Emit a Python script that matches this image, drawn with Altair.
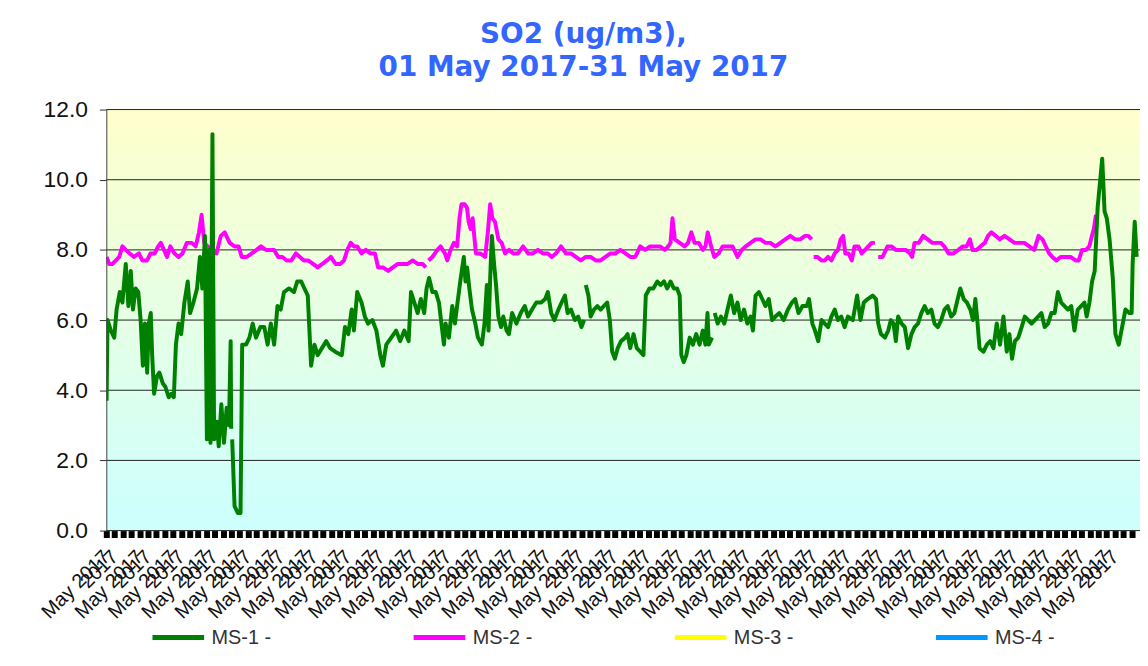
import altair as alt
import pandas as pd

# ---- data (hours since 01 May 2017 00:00, value in ug/m3) ----
ms1_hours = [0.2, 0.9, 3.3, 5.7, 7.4, 9.7, 11.6, 14.0, 15.9, 17.6, 19.2, 21.1, 23.0, 24.7, 26.3, 27.8, 29.4, 30.6, 32.0, 33.0,
             34.4, 36.5, 38.2, 40.6, 42.5, 44.9, 46.8, 48.6, 50.1, 52.0, 53.9, 56.2, 58.6, 60.3, 62.7, 65.3, 67.4, 69.1, 71.0, 72.4,
             73.8, 75.0, 76.4, 77.6, 79.5, 80.9, 82.8, 84.7, 86.6, 88.3, 89.5, 89.9, 90.3, 90.6, 92.3, 94.7, 96.6, 97.8, 100.6, 103.0,
             105.4, 107.7, 110.9, 113.7, 116.1, 118.4, 120.8, 123.2, 125.5, 127.9, 131.5, 135.1, 137.4, 140.3, 142.6, 145.0, 147.4, 149.8, 152.1, 155.2,
             158.3, 161.1, 164.7, 169.5, 171.8, 174.2, 176.6, 178.2, 180.6, 183.7, 186.1, 188.4, 191.5, 194.4, 197.2, 199.1, 201.5, 205.1, 208.6, 211.5,
             214.5, 217.6, 219.3, 221.7, 224.1, 226.4, 228.8, 230.5, 232.3, 234.7, 237.1, 239.4, 243.0, 244.2, 246.6, 249.0, 250.9, 252.8, 255.1, 257.3,
             258.5, 259.7, 261.3, 263.2, 265.6, 267.5, 270.3, 272.2, 273.9, 275.1, 276.3, 277.5, 279.1, 280.5, 282.2, 284.1, 285.7, 288.1, 289.8, 292.1,
             295.2, 298.3, 301.2, 303.5, 306.4, 309.5, 313.0, 315.9, 317.8, 320.2, 322.5, 325.4, 327.7, 330.1, 332.0, 334.4, 337.3, 339.6, 342.0, 343.9,
             344.5, 345.1, 347.0, 348.6, 351.0, 353.4, 355.8, 358.1, 360.5, 362.4, 364.1, 366.0, 368.1, 370.5, 373.5, 375.2, 377.1, 379.5, 381.8, 384.3,
             386.6, 388.3, 390.9, 393.7, 396.6, 398.9, 401.4, 403.7, 406.1, 408.5, 410.8, 412.7, 413.9, 415.6, 417.5, 419.9, 422.2, 424.6, 427.0, 429.3,
             431.2, 432.7, 433.6, 436.0, 437.0, 437.9, 440.0, 442.4, 444.8, 447.1, 449.5, 451.9, 454.3, 456.6, 459.0, 461.4, 463.7, 465.4, 467.3, 469.7,
             472.1, 474.4, 476.8, 479.2, 481.6, 484.4, 487.6, 490.6, 493.5, 495.8, 498.2, 501.1, 504.1, 505.8, 508.2, 510.1, 512.4, 514.8, 517.1, 519.5,
             521.9, 524.3, 526.6, 529.0, 531.4, 533.8, 537.3, 540.4, 542.8, 545.2, 548.0, 551.6, 554.0, 555.6, 557.5, 560.4, 562.8, 564.7, 566.6, 568.3,
             569.9, 572.4, 574.7, 577.1, 579.5, 581.8, 584.2, 586.6, 589.0, 591.3, 593.8, 596.1, 598.5, 600.9, 603.3, 605.6, 608.1, 610.4, 612.8, 614.7,
             617.1, 619.5, 621.9, 623.8, 625.5, 627.1, 628.5, 631.4, 633.8, 636.2, 638.5, 640.9, 643.3, 645.7, 648.1, 650.0, 651.9, 654.0, 656.4, 658.8,
             661.1, 663.5, 665.9, 668.3, 670.7, 673.0, 675.4, 677.8, 680.2, 682.6, 684.9, 687.3, 689.7, 692.1, 694.5, 696.8, 699.2, 701.6, 704.0, 705.6,
             707.6, 709.5, 711.4, 713.5, 716.8, 718.5, 720.1, 722.1, 724.4, 726.3, 728.7, 731.6, 733.5, 736.3, 738.0, 738.7, 740.2, 741.6]
ms1_values = [3.7, 6.0, 5.7, 5.5, 6.3, 6.8, 6.5, 7.6, 6.4, 7.4, 6.3, 6.9, 6.8, 6.0, 4.7, 5.9, 4.5, 5.9, 6.2, 5.0,
              3.9, 4.4, 4.5, 4.2, 4.1, 3.8, 3.9, 3.8, 5.3, 5.9, 5.6, 6.5, 7.1, 6.2, 6.5, 6.9, 7.8, 6.9, 8.4, 2.6,
              8.0, 2.5, 11.3, 2.6, 3.1, 2.4, 3.6, 2.5, 3.5, 3.0, 5.4, 2.9, None, 2.6, 0.7, 0.5, 0.5, 5.3, 5.3, 5.5,
              5.9, 5.5, 5.8, 5.8, 5.3, 5.9, 5.3, 6.4, 6.3, 6.8, 6.9, 6.8, 7.1, 7.1, 6.9, 6.7, 4.7, 5.3, 5.0, 5.2,
              5.4, 5.2, 5.1, 5.0, 5.8, 5.6, 6.3, 5.7, 6.8, 6.5, 6.1, 5.9, 6.0, 5.7, 5.0, 4.7, 5.3, 5.5, 5.7, 5.4,
              5.7, 5.4, 6.8, 6.5, 6.2, 6.6, 6.2, 6.9, 7.2, 6.8, 6.8, 6.5, 5.3, 5.9, 5.5, 6.4, 5.9, 6.5, 7.2, 7.8,
              7.1, 7.5, 6.9, 6.3, 5.9, 5.5, 5.3, 5.9, 7.0, 5.7, 7.2, 8.4, 7.6, 7.0, 6.1, 5.8, 6.1, 5.7, 5.6, 6.2,
              5.9, 6.2, 6.4, 6.1, 6.3, 6.5, 6.5, 6.6, 6.8, 6.2, 6.0, 6.3, 6.5, 6.7, 6.2, 6.3, 6.0, 6.1, 5.8, 6.0,
              None, 7.0, 6.7, 6.1, 6.3, 6.4, 6.3, 6.4, 6.5, 6.0, 5.1, 4.9, 5.2, 5.4, 5.5, 5.6, 5.2, 5.6, 5.2, 5.1,
              5.0, 6.7, 6.9, 6.9, 7.1, 7.0, 7.1, 6.9, 7.1, 6.9, 6.9, 6.7, 5.0, 4.8, 5.0, 5.5, 5.3, 5.6, 5.3, 5.7,
              5.3, 6.2, 5.3, 5.5, None, 6.2, 5.9, 6.1, 5.9, 6.3, 6.7, 6.2, 6.5, 6.0, 6.3, 5.9, 6.1, 5.7, 6.7, 6.8,
              6.6, 6.4, 6.6, 6.0, 6.1, 6.2, 6.0, 6.3, 6.5, 6.6, 6.2, 6.4, 6.4, 6.6, 5.9, 5.7, 5.4, 6.0, 5.9, 5.8,
              6.1, 6.3, 6.0, 6.1, 5.8, 6.1, 6.0, 6.7, 6.0, 6.5, 6.6, 6.7, 6.6, 5.9, 5.6, 5.5, 5.7, 6.0, 5.9, 5.4,
              6.1, 5.9, 5.8, 5.2, 5.6, 5.8, 5.9, 6.2, 6.4, 6.2, 6.3, 5.9, 5.8, 6.0, 6.3, 6.4, 6.1, 6.2, 6.6, 6.9,
              6.6, 6.5, 6.3, 6.0, 6.6, 5.9, 5.2, 5.1, 5.3, 5.4, 5.2, 5.9, 5.3, 6.1, 5.1, 5.6, 4.9, 5.4, 5.5, 5.8,
              6.1, 6.0, 5.9, 6.0, 6.1, 6.2, 5.8, 5.9, 6.2, 6.2, 6.8, 6.5, 6.4, 6.3, 6.4, 5.7, 6.3, 6.4, 6.5, 6.1,
              6.5, 7.1, 7.4, 9.2, 10.6, 9.1, 8.9, 8.3, 7.2, 5.6, 5.3, 5.9, 6.3, 6.2, 6.2, 7.6, 8.8, 7.8]

ms2_hours = [0.2, 2.1, 4.5, 6.9, 9.3, 11.6, 14.0, 16.9, 19.9, 23.5, 25.9, 29.4, 31.8, 34.9, 37.3, 39.2, 41.5, 43.7, 46.1, 49.1,
             52.0, 54.8, 57.9, 61.5, 64.3, 66.7, 68.6, 70.5, 72.9, 76.2, 79.3, 82.4, 85.2, 88.8, 92.3, 95.2, 97.5, 101.1, 104.7, 108.2,
             111.3, 114.9, 118.4, 120.8, 123.7, 126.7, 129.8, 133.2, 136.5, 139.3, 142.2, 145.2, 148.8, 152.1, 155.5, 158.8, 161.6, 165.0, 168.3, 171.1,
             173.5, 175.9, 178.2, 180.6, 183.7, 186.8, 190.1, 193.4, 195.6, 199.1, 202.9, 206.2, 209.8, 213.4, 216.9, 220.5, 224.1, 227.6, 230.0, 231.0,
             231.9, 234.7, 238.3, 240.6, 243.7, 245.4, 247.8, 250.2, 252.5, 254.2, 255.6, 258.0, 259.6, 260.8, 262.2, 263.7, 264.6, 266.0, 269.1, 272.7,
             274.6, 276.3, 277.9, 279.8, 282.2, 284.6, 287.0, 289.8, 292.9, 296.4, 300.0, 303.5, 307.1, 310.7, 314.2, 317.8, 320.6, 323.7, 327.3, 330.8,
             334.4, 337.9, 341.5, 345.1, 348.6, 352.2, 355.8, 359.3, 362.9, 366.5, 370.0, 373.6, 377.1, 380.7, 384.3, 387.8, 391.4, 394.9, 398.5, 402.0,
             404.4, 406.1, 407.5, 409.2, 412.7, 416.3, 418.7, 421.1, 423.4, 426.5, 429.3, 431.2, 432.9, 435.3, 437.6, 440.7, 443.6, 447.1, 450.7, 454.3,
             457.3, 460.2, 463.7, 467.3, 470.9, 474.4, 478.0, 481.6, 485.1, 488.7, 492.3, 495.8, 499.4, 502.9, 505.3, 507.7, 508.4, 509.1, 511.9, 514.8,
             517.1, 519.5, 521.9, 524.3, 526.6, 528.5, 530.4, 531.9, 534.2, 536.6, 538.5, 541.3, 543.7, 546.1, 548.5, 550.8, 553.2, 554.4, 555.6, 558.7,
             562.3, 565.1, 568.2, 571.7, 575.3, 578.4, 580.0, 581.7, 584.8, 587.9, 591.2, 594.5, 597.8, 600.7, 603.1, 606.2, 609.7, 613.3, 616.4, 619.2,
             621.6, 623.5, 626.3, 629.2, 632.3, 634.6, 637.0, 640.1, 643.0, 646.5, 650.1, 653.7, 657.2, 660.8, 664.3, 667.9, 671.0, 673.8, 676.2, 678.6,
             680.9, 683.8, 686.9, 690.4, 694.0, 697.6, 699.9, 702.3, 705.2, 707.5, 709.4, 710.8, 712.3]
ms2_values = [7.8, 7.6, 7.6, 7.7, 7.8, 8.1, 8.0, 7.9, 7.8, 7.9, 7.7, 7.7, 7.9, 7.9, 8.1, 8.2, 8.0, 7.8, 8.1, 7.9,
              7.8, 7.9, 8.2, 8.2, 8.1, 8.5, 9.0, 8.2, 8.1, 8.0, 7.9, 8.4, 8.5, 8.2, 8.1, 8.1, 7.8, 7.8, 7.9, 8.0,
              8.1, 8.0, 8.0, 8.0, 7.8, 7.8, 7.7, 7.7, 7.9, 7.8, 7.7, 7.7, 7.6, 7.5, 7.6, 7.7, 7.8, 7.6, 7.6, 7.7,
              8.0, 8.2, 8.1, 8.1, 7.9, 8.0, 7.9, 7.9, 7.5, 7.5, 7.4, 7.5, 7.6, 7.6, 7.6, 7.7, 7.6, 7.6, 7.5, None,
              7.7, 7.8, 8.0, 8.1, 7.9, 7.7, 8.0, 8.2, 8.1, 8.9, 9.3, 9.3, 9.2, 8.8, 8.6, 8.9, 8.5, 7.9, 7.9, 7.8,
              8.5, 9.3, 8.9, 8.8, 8.3, 8.2, 7.9, 8.0, 7.9, 7.9, 8.1, 7.9, 7.9, 8.0, 7.9, 7.9, 7.8, 7.9, 8.1, 7.9,
              7.9, 7.8, 7.7, 7.8, 7.8, 7.7, 7.7, 7.8, 7.9, 7.9, 8.0, 7.9, 7.8, 7.8, 8.1, 8.0, 8.1, 8.1, 8.1, 8.0,
              8.1, 8.2, 8.9, 8.3, 8.2, 8.1, 8.2, 8.5, 8.2, 8.2, 8.0, 8.1, 8.5, 8.1, 7.8, 7.9, 8.1, 8.1, 8.1, 7.8,
              8.0, 8.1, 8.2, 8.3, 8.3, 8.2, 8.2, 8.1, 8.2, 8.3, 8.4, 8.3, 8.3, 8.4, 8.4, 8.3, None, 7.8, 7.8, 7.7,
              7.7, 7.8, 7.7, 7.9, 8.0, 8.3, 8.4, 7.9, 7.9, 7.7, 8.1, 8.1, 7.9, 8.0, 8.1, 8.2, 8.2, None, 7.8, 7.8,
              8.1, 8.1, 8.0, 8.0, 8.0, 7.9, 7.8, 8.2, 8.2, 8.4, 8.3, 8.2, 8.2, 8.2, 8.1, 7.9, 7.9, 8.0, 8.1, 8.1,
              8.3, 8.0, 8.0, 8.1, 8.2, 8.4, 8.5, 8.4, 8.3, 8.4, 8.3, 8.2, 8.2, 8.2, 8.1, 8.0, 8.4, 8.3, 8.1, 7.9,
              7.8, 7.7, 7.8, 7.8, 7.8, 7.7, 7.7, 8.0, 8.0, 8.1, 8.4, 8.6, 9.0]

series_names = ["MS-1 -", "MS-2 -", "MS-3 -", "MS-4 -"]
series_colors = ["#008000", "#ff00ff", "#ffff00", "#0096ff"]
y_gridlines = [0, 2, 4, 6, 8, 10, 12]
title_lines = ["SO2 (ug/m3),", "01 May 2017-31 May 2017"]
label_day = "May 2017"
label_sub = "2017"

start = pd.Timestamp("2017-05-01T00:00:00Z")
end = pd.Timestamp("2017-06-01T00:00:00Z")


def to_ms(ts):
    return int(ts.timestamp() * 1000)


def frame(hours, values, name):
    times = [(start + pd.Timedelta(hours=h)).strftime("%Y-%m-%dT%H:%M:%SZ") for h in hours]
    return pd.DataFrame({"time": times, "value": values, "series": name})


df1 = frame(ms1_hours, ms1_values, series_names[0])
df2 = frame(ms2_hours, ms2_values, series_names[1])

tick_values = [to_ms(start + pd.Timedelta(hours=6 * i)) for i in range(124)]

x_scale = alt.Scale(type="utc", domain=[to_ms(start), to_ms(end)])
y_scale = alt.Scale(domain=[0, 12], nice=False)
color_scale = alt.Scale(domain=series_names, range=series_colors)

x_axis = alt.Axis(
    values=tick_values,
    labelExpr=f"utchours(datum.value) == 0 ? '{label_day}' : (utchours(datum.value) == 6 ? '{label_sub}' : '')",
    labelAngle=-45, labelAlign="right", labelBaseline="middle",
    labelFont="Liberation Sans", labelFontSize=20, labelColor="#111",
    labelOverlap=False, labelFlush=False, labelPadding=16,
    tickSize=7, tickWidth=6, tickColor="#000",
    domain=False, grid=False, title=None, zindex=1,
)
y_axis = alt.Axis(
    values=y_gridlines, format=".1f",
    labelFont="Liberation Sans", labelFontSize=23, labelColor="#111", labelPadding=12,
    tickSize=7, tickColor="#333", domainColor="#444",
    grid=False, title=None, zindex=1,
)
legend = alt.Legend(
    title=None, orient="none", legendX=44, legendY=503, direction="horizontal", columns=4,
    symbolType="stroke", symbolSize=2704, symbolStrokeWidth=5,
    labelFont="Liberation Sans", labelFontSize=20, labelColor="#333", labelOffset=5,
    columnPadding=133, gridAlign="all", padding=0,
)

background = alt.Chart(alt.Data(values=[{"k": 0}])).mark_rect(
    fill=alt.Gradient(
        gradient="linear",
        stops=[alt.GradientStop(color="#ffffcc", offset=0), alt.GradientStop(color="#ccffff", offset=1)],
        x1=0, x2=0, y1=0, y2=1,
    )
).encode(x=alt.value(0), x2=alt.value("width"), y=alt.value(0), y2=alt.value("height"))

gridlines = alt.Chart(pd.DataFrame({"g": y_gridlines})).mark_rule(color="#222", strokeWidth=1).encode(
    y=alt.Y("g:Q", scale=y_scale, axis=y_axis)
)


def line_layer(df):
    return alt.Chart(df).mark_line(strokeWidth=4, strokeJoin="round", clip=True).encode(
        x=alt.X("time:T", scale=x_scale, axis=x_axis),
        y=alt.Y("value:Q", scale=y_scale, axis=y_axis),
        color=alt.Color("series:N", scale=color_scale, legend=legend),
    )


chart = alt.layer(background, gridlines, line_layer(df2), line_layer(df1)).properties(
    width=1041, height=424,
    title=alt.TitleParams(
        text=title_lines, fontSize=28, font="DejaVu Sans", fontWeight="bold", color="#3366ff",
        lineHeight=33, anchor="middle", dx=-40, offset=17,
    ),
    padding={"left": 99, "top": 100, "right": 0, "bottom": 120},
    autosize=alt.AutoSizeParams(type="none"),
).configure_view(stroke=None)

chart.save("out.html", embed_options={"renderer": "svg", "actions": False})
